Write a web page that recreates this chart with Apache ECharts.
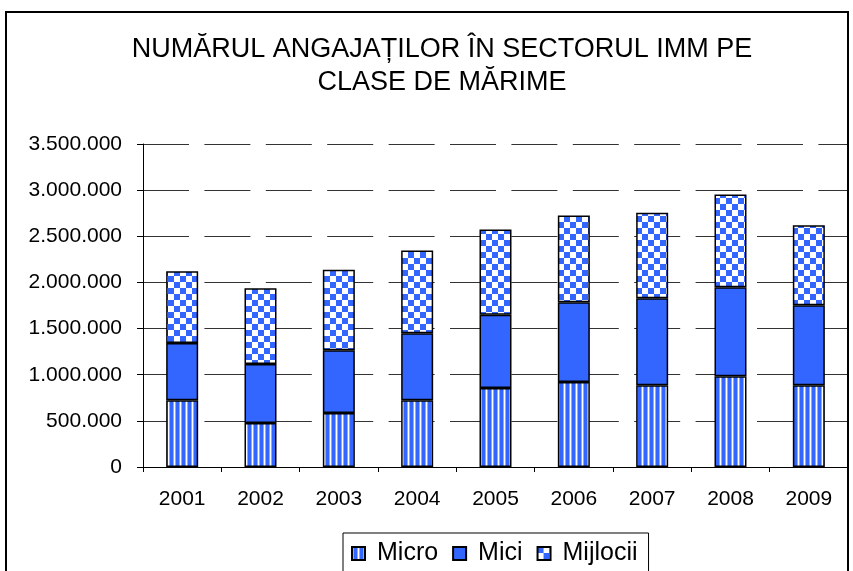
<!DOCTYPE html>
<html>
<head>
<meta charset="utf-8">
<script src="https://cdn.jsdelivr.net/npm/echarts@6/dist/echarts.min.js"></script>
<style>
  html, body { margin: 0; padding: 0; background: #fff; }
  #chart { width: 853px; height: 571px; }
</style>
</head>
<body>
<div id="chart"></div>
<script>
  // date
  var years = ['2001', '2002', '2003', '2004', '2005', '2006', '2007', '2008', '2009'];
  var micro = [722000, 477000, 586000, 722000, 857000, 922000, 885000, 983000, 885000];
  var mici = [623000, 640000, 679000, 727000, 792000, 863000, 944000, 965000, 868000];
  var mijlocii = [776000, 820000, 872000, 897000, 925000, 941000, 926000, 1005000, 867000];
  var seriesNames = ['Micro', 'Mici', 'Mijlocii'];

  var BLUE = '#3366FF';
  var FONT = '"Liberation Sans", Arial, sans-serif';

  // hasura verticala (Micro)
  function stripes() {
    var c = document.createElement('canvas');
    c.width = 6; c.height = 6;
    var ctx = c.getContext('2d');
    ctx.fillStyle = '#fff';
    ctx.fillRect(0, 0, 6, 6);
    ctx.fillStyle = '#8fa9ff';
    ctx.fillRect(1, 0, 1, 6);
    ctx.fillRect(5, 0, 1, 6);
    ctx.fillStyle = BLUE;
    ctx.fillRect(2, 0, 3, 6);
    return c;
  }

  // tabla de sah (Mijlocii)
  function checker() {
    var c = document.createElement('canvas');
    c.width = 12; c.height = 12;
    var ctx = c.getContext('2d');
    ctx.fillStyle = '#fff';
    ctx.fillRect(0, 0, 12, 12);
    ctx.fillStyle = BLUE;
    ctx.fillRect(0, 0, 6, 6);
    ctx.fillRect(6, 6, 6, 6);
    return c;
  }

  var fills = [
    {image: stripes(), repeat: 'repeat'},
    BLUE,
    {image: checker(), repeat: 'repeat'}
  ];
  var values = [micro, mici, mijlocii];

  function fmt(v) {
    return String(v).replace(/\B(?=(\d{3})+(?!\d))/g, '.');
  }

  var series = [];
  seriesNames.forEach(function (name, i) {
    series.push({
      name: name,
      type: 'bar',
      stack: 'total',
      barWidth: 32,
      data: values[i],
      itemStyle: {
        color: fills[i],
        borderColor: '#000',
        borderWidth: 1.5
      }
    });
  });

  var chart = echarts.init(document.getElementById('chart'));
  chart.setOption({
    animation: false,
    backgroundColor: '#fff',
    title: {
      text: 'NUMĂRUL ANGAJAȚILOR ÎN SECTORUL IMM PE\nCLASE DE MĂRIME',
      left: 437,
      top: 28,
      textAlign: 'center',
      textStyle: {
        fontFamily: FONT,
        fontSize: 27,
        fontWeight: 'normal',
        color: '#000',
        lineHeight: 33
      }
    },
    legend: {
      data: seriesNames,
      left: 343,
      top: 533,
      padding: [8, 11, 24, 8],
      itemGap: 14,
      itemWidth: 13,
      itemHeight: 13,
      icon: 'rect',
      borderColor: '#000',
      borderWidth: 1,
      textStyle: {
        fontFamily: FONT,
        fontSize: 25,
        color: '#000',
        padding: [0, 0, 0, 7]
      }
    },
    grid: {
      left: 143,
      right: 5,
      top: 144,
      bottom: 104,
      containLabel: false
    },
    xAxis: {
      type: 'category',
      data: years,
      axisLine: {lineStyle: {color: '#000', width: 1}},
      axisTick: {show: true, length: 5, lineStyle: {color: '#000'}},
      axisLabel: {
        margin: 22,
        fontFamily: FONT,
        fontSize: 21,
        color: '#000'
      }
    },
    yAxis: {
      type: 'value',
      min: 0,
      max: 3500000,
      interval: 500000,
      axisLine: {show: true, lineStyle: {color: '#000', width: 1}},
      axisTick: {show: true, length: 6, lineStyle: {color: '#000'}},
      axisLabel: {
        margin: 21,
        fontFamily: FONT,
        fontSize: 21,
        color: '#000',
        formatter: fmt
      },
      splitLine: {
        show: true,
        lineStyle: {
          color: '#333',
          width: 1,
          type: [46, 15.4]
        }
      }
    },
    graphic: [{
      type: 'rect',
      shape: {x: 6, y: 12, width: 842, height: 600},
      style: {fill: null, stroke: '#000', lineWidth: 2},
      silent: true,
      z: 100
    }],
    series: series
  });
</script>
</body>
</html>
